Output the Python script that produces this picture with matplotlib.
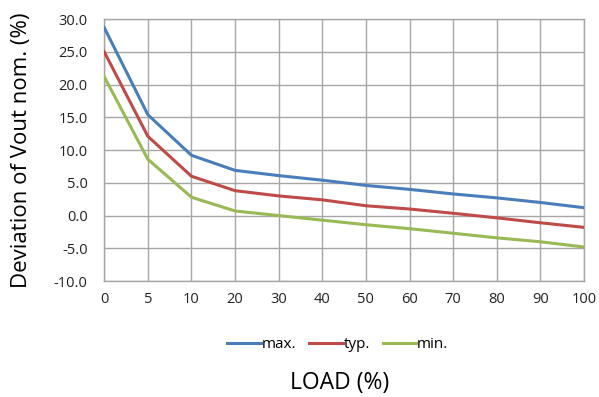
import numpy as np
import matplotlib.pyplot as plt
from matplotlib.ticker import FormatStrFormatter

plt.rcParams['font.family'] = ['Open Sans', 'DejaVu Sans']

load_labels = ['0', '5', '10', '20', '30', '40', '50', '60', '70', '80', '90', '100']
dev_max = [28.7, 15.4, 9.2, 6.9, 6.1, 5.4, 4.6, 4.0, 3.3, 2.7, 2.0, 1.2]
dev_typ = [25.0, 12.1, 6.0, 3.8, 3.0, 2.4, 1.5, 1.0, 0.35, -0.35, -1.1, -1.8]
dev_min = [21.2, 8.6, 2.8, 0.7, 0.0, -0.7, -1.4, -2.0, -2.7, -3.4, -4.0, -4.8]

series = [('max.', dev_max, '#4a7ebb'),
          ('typ.', dev_typ, '#be4b48'),
          ('min.', dev_min, '#98b954')]

fig = plt.figure(figsize=(5.99, 3.97), dpi=100)
ax = fig.add_axes([0.174, 0.292, 0.801, 0.660])

x = np.arange(len(load_labels))
for name, vals, col in series:
    ax.plot(x, vals, color=col, lw=2.2, label=name, zorder=3)

ax.set_xlim(0, len(load_labels) - 1)
ax.set_ylim(-10, 30)
ax.set_xticks(x)
ax.set_xticklabels(load_labels)
ax.set_yticks(np.arange(-10, 31, 5))
ax.yaxis.set_major_formatter(FormatStrFormatter('%.1f'))
ax.tick_params(labelsize=10.5, length=0, colors='#222222')
ax.tick_params(axis='y', pad=12)
ax.tick_params(axis='x', pad=8)
ax.grid(True, color='#a6a6a6', lw=1)
for s in ax.spines.values():
    s.set_color('#a6a6a6')
    s.set_linewidth(1)

fig.text(0.036, 0.622, 'Deviation of Vout nom. (%)', rotation=90, ha='center', va='center', fontsize=16)
fig.text(0.567, 0.035, 'LOAD (%)', ha='center', va='center', fontsize=16.5)
fig.legend(loc='center', bbox_to_anchor=(0.564, 0.131), ncol=3, frameon=False,
           fontsize=11, handlelength=2.2, handletextpad=0.05, columnspacing=0.85)

fig.savefig('out.png', dpi=100)
